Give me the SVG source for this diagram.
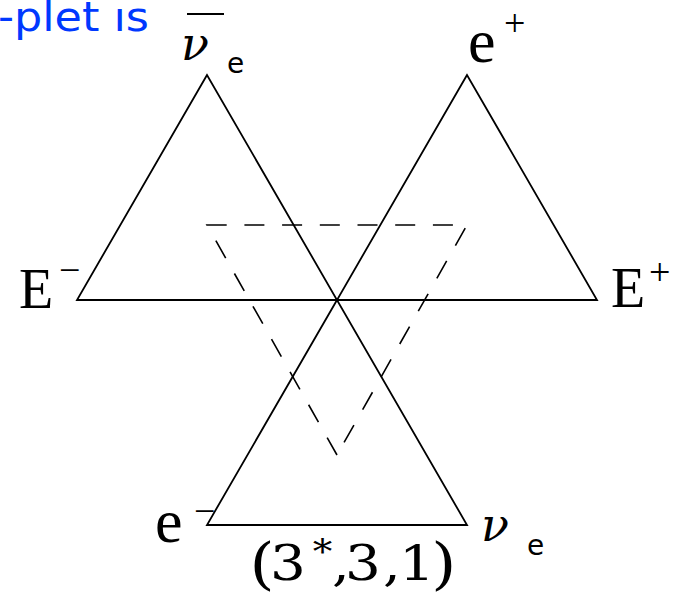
<svg xmlns="http://www.w3.org/2000/svg" width="676" height="594" viewBox="0 0 676 594">
<style>
.tri{fill:none;stroke:#000;stroke-width:1.8;stroke-linejoin:miter}
.dash{fill:none;stroke:#000;stroke-width:1.6;stroke-dasharray:20 17.7}
.lbl{font-family:"Liberation Serif","DejaVu Serif",serif;font-size:56px;fill:#000}
.e{font-family:"Liberation Serif","DejaVu Serif",serif;font-size:62px;fill:#000}
.sup{font-family:"Liberation Serif","DejaVu Serif",serif;font-size:38px;fill:#000}
.nu{font-family:"DejaVu Serif","Liberation Serif",serif;font-style:italic;font-size:46px;fill:#000}
.sub{font-family:"DejaVu Sans","Liberation Sans",sans-serif;font-size:28px;fill:#000}
.rep{font-family:"DejaVu Serif","Liberation Serif",serif;font-size:49px;fill:#000}
.blue{font-family:"DejaVu Sans","Liberation Sans",sans-serif;font-size:40px;fill:#0038ff}
</style>
<rect width="676" height="594" fill="#fff"/>
<text class="blue" x="-2" y="31" textLength="151" lengthAdjust="spacingAndGlyphs">-plet ıs</text>
<g id="connectors">
<polygon class="tri" points="207,75 77,300 337,300"/>
<polygon class="tri" points="467,75 337,300 597,300"/>
<polygon class="tri" points="337,300 207,525 467,525"/>
<path class="dash" d="M337,455 L207,225 L467,225 Z"/>
</g>
<g id="node-nubar-e">
<line x1="187" y1="14" x2="224" y2="14" stroke="#000" stroke-width="2"/>
<text class="nu" x="181" y="60">ν</text>
<text class="sub" x="227" y="73">e</text>
</g>
<g id="node-e-plus">
<text class="e" x="468" y="62">e</text>
<text class="sup" x="504" y="36">+</text>
</g>
<g id="node-E-minus">
<text class="lbl" x="19" y="308">E</text>
<text class="sup" x="59" y="283">−</text>
</g>
<g id="node-E-plus">
<text class="lbl" x="611" y="307">E</text>
<text class="sup" x="649" y="285">+</text>
</g>
<g id="node-e-minus">
<text class="e" x="155" y="542">e</text>
<text class="sup" x="194" y="524">−</text>
</g>
<g id="node-nu-e">
<text class="nu" x="481" y="541">ν</text>
<text class="sub" x="527" y="555">e</text>
</g>
<g id="label-rep" transform="scale(1.15,1)">
<text class="rep" y="580"><tspan x="217" y="583" font-size="56">(</tspan><tspan x="234.8" y="580">3</tspan><tspan x="272" y="563" font-size="34">*</tspan><tspan x="288.7" y="580">,</tspan><tspan x="300">3</tspan><tspan x="333">,</tspan><tspan x="347">1</tspan><tspan x="375" y="583" font-size="56">)</tspan></text>
</g>
</svg>
